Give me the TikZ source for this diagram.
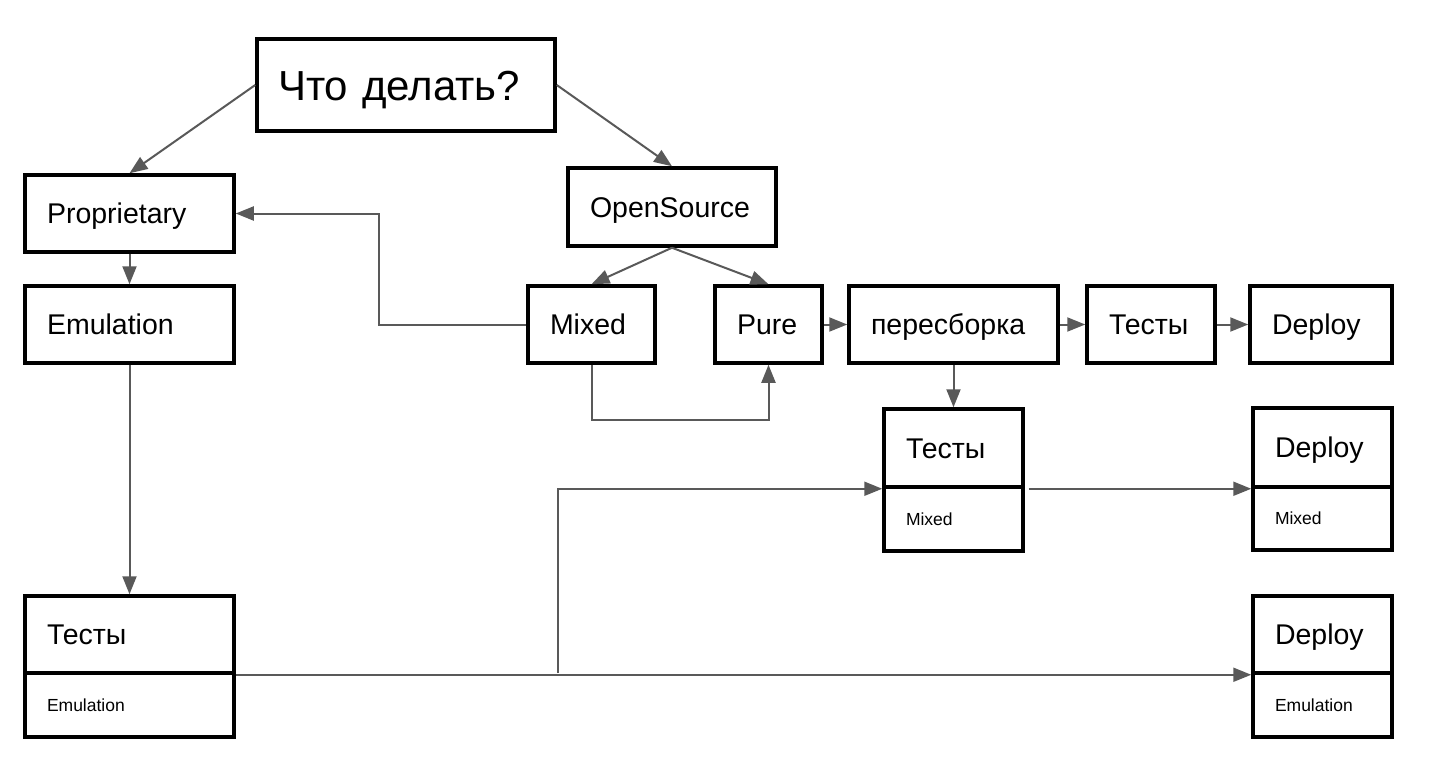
\documentclass[tikz,border=0pt]{standalone}
\usepackage{fontspec}
\setmainfont{Liberation Sans}
\usetikzlibrary{arrows.meta}
\definecolor{arr}{RGB}{89,89,89}
\tikzset{
  box/.style={draw=black, line width=3.5pt, rectangle, inner xsep=22pt, inner ysep=0pt, align=left, font=\fontsize{28.5}{31}\selectfont, text height=20.4pt, text depth=0pt},
  small/.style={font=\fontsize{17.5}{20}\selectfont, text height=12.5pt, text depth=0pt},
  big/.style={font=\fontsize{42}{46}\selectfont, text height=30pt, text depth=0pt},
  conn/.style={draw=arr, line width=2pt, -{Triangle[length=18pt,width=14pt]}},
  line/.style={draw=arr, line width=2pt}
}
\begin{document}
\begin{tikzpicture}[x=1pt,y=-1pt]
\useasboundingbox (0,0) rectangle (1446,772);
% top
\node[box, big, minimum width=298pt, minimum height=92pt, text width=256pt, inner xsep=21pt] (q) at (406,85) {Что делать?};
% left column
\node[box, minimum width=209pt, minimum height=77pt, text width=165pt] (prop) at (129.5,213.5) {Proprietary};
\node[box, minimum width=209pt, minimum height=77pt, text width=165pt] (emul) at (129.5,324.5) {Emulation};
\node[box, minimum width=209pt, minimum height=77pt, text width=165pt] (testEt) at (129.5,634.5) {Тесты};
\node[box, small, minimum width=209pt, minimum height=64pt, text width=165pt] (testEb) at (129.5,705) {Emulation};
% open source branch
\node[box, minimum width=208pt, minimum height=78pt, text width=164pt] (os) at (672,207) {OpenSource};
\node[box, minimum width=127pt, minimum height=77pt, text width=83pt] (mixed) at (591.5,324.5) {Mixed};
\node[box, minimum width=107pt, minimum height=77pt, text width=63pt] (pure) at (768.5,324.5) {Pure};
\node[box, minimum width=209pt, minimum height=77pt, text width=165pt] (reb) at (953.5,324.5) {пересборка};
\node[box, minimum width=128pt, minimum height=77pt, text width=84pt] (tests) at (1151,324.5) {Тесты};
\node[box, minimum width=142pt, minimum height=77pt, text width=98pt] (dep) at (1321,324.5) {Deploy};
% mixed tests
\node[box, minimum width=139pt, minimum height=78pt, text width=95pt] (testMt) at (953.5,448) {Тесты};
\node[box, small, minimum width=139pt, minimum height=64pt, text width=95pt] (testMb) at (953.5,519) {Mixed};
\node[box, minimum width=139pt, minimum height=79pt, text width=95pt] (depMt) at (1322.5,447.5) {Deploy};
\node[box, small, minimum width=139pt, minimum height=63pt, text width=95pt] (depMb) at (1322.5,518.5) {Mixed};
\node[box, minimum width=139pt, minimum height=77pt, text width=95pt] (depEt) at (1322.5,634.5) {Deploy};
\node[box, small, minimum width=139pt, minimum height=64pt, text width=95pt] (depEb) at (1322.5,705) {Emulation};
\coordinate (br) at (558,673);
% connectors
\draw[conn] (q.west) -- (prop.north);
\draw[conn] (q.east) -- (os.north);
\draw[conn] (prop.south) -- (emul.north);
\draw[conn] (emul.south) -- (testEt.north);
\draw[conn] (mixed.west) -- ++(-147,0) |- (prop.east);
\draw[conn] (os.south) -- (mixed.north);
\draw[conn] (os.south) -- (pure.north);
\draw[conn] (mixed.south) -- ++(0,55) -| (pure.south);
\draw[conn] (pure.east) -- (reb.west);
\draw[conn] (reb.east) -- (tests.west);
\draw[conn] (tests.east) -- (dep.west);
\draw[conn] (reb.south) -- (testMt.north);
\draw[conn] (testEt.south east) -- (depEt.south west);
\draw[conn] (br) |- (testMt.south west);
\draw[conn, shorten <=4pt] (testMt.south east) -- (depMt.south west);
\end{tikzpicture}
\end{document}
